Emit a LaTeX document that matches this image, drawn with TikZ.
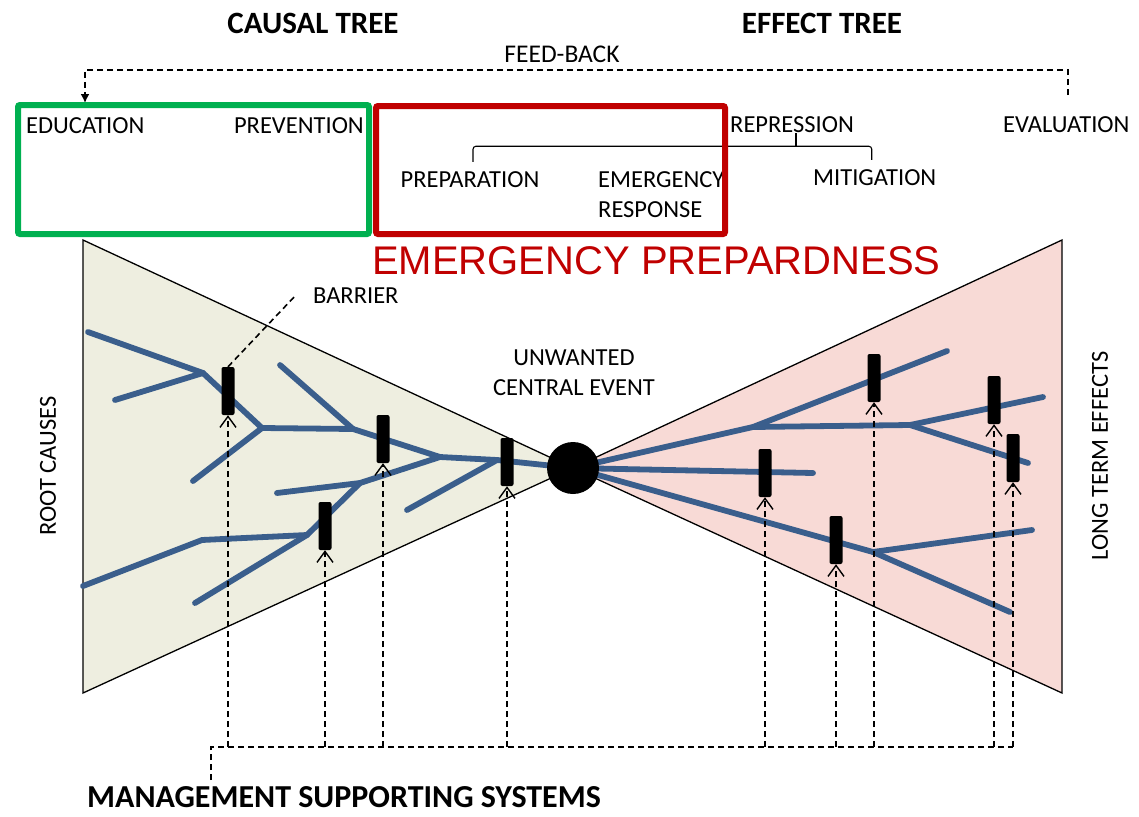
\documentclass[tikz,border=0pt]{standalone}
\usepackage{fontspec}
\setmainfont{Carlito}
\newfontfamily\arialfont{Liberation Sans}
\usetikzlibrary{arrows.meta,calc}
\definecolor{beige}{RGB}{238,238,224}
\definecolor{pinkfill}{RGB}{248,218,214}
\definecolor{branch}{RGB}{58,94,140}
\definecolor{boxgreen}{RGB}{0,176,80}
\definecolor{boxred}{RGB}{192,0,0}
\begin{document}
\begin{tikzpicture}[x=1pt,y=-1pt,
  lbl/.style={inner sep=0pt, font=\fontsize{24.5}{30}\selectfont},
  ttl/.style={inner sep=0pt, font=\fontsize{31}{34}\selectfont\bfseries},
  barrier/.style={fill=black, rounded corners=2pt, minimum width=13pt, minimum height=48pt, inner sep=0pt},
  br/.style={draw=branch, line width=5.8pt, line cap=round, line join=round},
  tri/.style={draw=black, line width=1.3pt},
  dsh/.style={draw=black, line width=1.6pt, dash pattern=on 6pt off 4pt},
  supp/.style={dsh, -{Straight Barb[length=11pt,width=16pt,line width=1.4pt]}},
  frame/.style={line width=6pt, rounded corners=2pt},
]
\useasboundingbox (0,0) rectangle (1139,816);

% triangles
\draw[tri, fill=beige] (83,240) -- (83,693) -- (573,468) -- cycle;
\draw[tri, fill=pinkfill] (1062,240) -- (1062,693) -- (573,468) -- cycle;

% causal branches
\draw[br] (88,332) -- (203,373) -- (262,428) -- (353,429) -- (440,457) -- (497,460) -- (573,468);
\draw[br] (115,400) -- (203,373);
\draw[br] (193,481) -- (262,428);
\draw[br] (280,365) -- (353,429);
\draw[br] (277,493) -- (360,483) -- (440,457);
\draw[br] (195,603) -- (307,535) -- (360,483);
\draw[br] (83,586) -- (202,540) -- (307,535);
\draw[br] (407,510) -- (497,460);

% effect branches
\draw[br] (573,468) -- (753,427) -- (947,351);
\draw[br] (753,427) -- (910,425) -- (1043,397);
\draw[br] (910,425) -- (1028,463);
\draw[br] (573,468) -- (813,473);
\draw[br] (573,468) -- (873,552) -- (1032,530);
\draw[br] (873,552) -- (1010,612);

% central event
\node[circle, fill=black, minimum size=52pt, inner sep=0pt] (ev) at (573,468) {};

% barriers
\node[barrier] (b1) at (228,391) {};
\node[barrier] (b2) at (383,439) {};
\node[barrier] (b3) at (507,462) {};
\node[barrier] (b4) at (325,526) {};
\node[barrier] (r1) at (874,378) {};
\node[barrier] (r2) at (765,473) {};
\node[barrier] (r3) at (994,400) {};
\node[barrier] (r4) at (1013,458) {};
\node[barrier] (r5) at (836,540) {};

% management supporting lines
\coordinate (mgmt) at (211,747);
\coordinate (mstart) at (211,780);
\foreach \b in {b1,b2,b3,b4,r1,r2,r3,r4,r5}
  \draw[supp] (\b.south |- mgmt) -- (\b.south);
\draw[dsh] (mstart) |- (r4.south |- mgmt);

% barrier label
\node[lbl, anchor=west] (barlbl) at (313,296) {BARRIER};
\coordinate (barend) at (296,295);
\draw[dsh] (b1.north) -- (barend);

% event label
\node[lbl, align=center] (evlbl) at (574,373) {UNWANTED\\CENTRAL EVENT};

% titles
\node[ttl] (causal) at (313,23) {CAUSAL TREE};
\node[ttl] (effect) at (822,23) {EFFECT TREE};
\node[inner sep=0pt, font=\fontsize{32}{36}\selectfont\bfseries] (mss) at (344,797) {MANAGEMENT SUPPORTING SYSTEMS};
\node[lbl, rotate=90] (root) at (48,466) {ROOT CAUSES};
\node[lbl, rotate=90] (lte) at (1100,456) {LONG TERM EFFECTS};

% top labels
\node[lbl, font=\fontsize{25.5}{30}\selectfont] (fb) at (562,54) {FEED-BACK};
\node[lbl, anchor=west] (edu) at (26,126) {EDUCATION};
\node[lbl, anchor=east] (prev) at (364,126) {PREVENTION};
\node[lbl] (prep) at (470,180) {PREPARATION};
\node[lbl, align=left, anchor=west] (emr) at (598,195) {EMERGENCY\\RESPONSE};
\node[lbl, anchor=west] (rep) at (730,125) {REPRESSION};
\node[lbl, anchor=west] (mit) at (813,178) {MITIGATION};
\node[lbl, anchor=west] (eval) at (1003,125) {EVALUATION};

% bracket
\draw[line width=1.1pt, rounded corners=3pt] ($(prep.north)+(3,-10)$) |- ($(rep.south)+(-3,13)$) -- ($(rep.south)+(1,13)$) -| ($(mit.north)+(-3,-10)$);
\draw[line width=1.1pt] ($(rep.south)+(4,13)$) -- ($(rep.south)+(4,0)$);

% feed-back
\coordinate (fbstart) at (1068,95);
\coordinate (fbtip) at (85,103);
\draw[dsh, -{Latex[length=9pt,width=9pt]}] (fbstart) -- (1068,70) -| (fbtip);

% frames
\draw[frame, draw=boxgreen] (18,105) rectangle (369,234);
\draw[frame, draw=boxred] (376,106) rectangle (725,234);
\node[inner sep=0pt, anchor=west, text=boxred, font=\arialfont\fontsize{40}{44}\selectfont] (ep) at (372,261) {EMERGENCY PREPARDNESS};
\end{tikzpicture}
\end{document}
